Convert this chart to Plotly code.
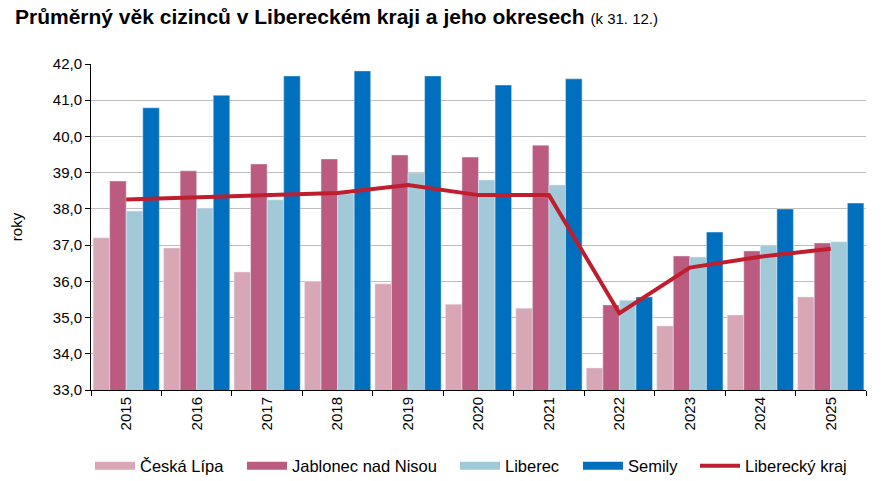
import plotly.graph_objects as go

years = ["2015", "2016", "2017", "2018", "2019", "2020", "2021", "2022", "2023", "2024", "2025"]
ceska_lipa = [37.20, 36.92, 36.26, 36.00, 35.93, 35.37, 35.26, 33.61, 34.77, 35.07, 35.57]
jablonec = [38.77, 39.05, 39.24, 39.38, 39.49, 39.43, 39.76, 35.35, 36.70, 36.84, 37.06]
liberec = [37.94, 38.02, 38.25, 38.41, 38.99, 38.80, 38.66, 35.48, 36.67, 37.00, 37.09]
semily = [40.79, 41.14, 41.67, 41.81, 41.67, 41.42, 41.59, 35.57, 37.36, 38.00, 38.16]
kraj = [38.26, 38.32, 38.37, 38.44, 38.66, 38.38, 38.38, 35.12, 36.38, 36.68, 36.90]

series_names = ["Česká Lípa", "Jablonec nad Nisou", "Liberec", "Semily"]
series_values = [ceska_lipa, jablonec, liberec, semily]
series_colors = ["#D8A7B6", "#BC5B80", "#A2C9D8", "#0070BE"]
line_name = "Liberecký kraj"
line_color = "#BE1E2D"

FONT = "Liberation Sans, Arial, sans-serif"

# plot area in pixels
L, R, T, B = 91, 17, 64, 91
W, H = 883, 481
PW = W - L - R
PH = H - T - B

legend_ids = ["legend", "legend2", "legend3", "legend4", "legend5"]
legend_px = [95, 247, 460, 583, 700]  # left edge of each swatch

fig = go.Figure()
for i, (name, vals, col) in enumerate(zip(series_names, series_values, series_colors)):
    fig.add_trace(go.Bar(x=years, y=vals, name=name, marker_color=col,
                         legendgroup=name, showlegend=False))
fig.add_trace(go.Scatter(x=years, y=kraj, name=line_name, mode="lines",
                         line=dict(color=line_color, width=4),
                         legendgroup=line_name, showlegend=True, legend=legend_ids[4]))
# legend swatches for bars (wide rectangles like the original)
for i, (name, col) in enumerate(zip(series_names, series_colors)):
    fig.add_trace(go.Scatter(x=[None], y=[None], name=name, mode="lines",
                             line=dict(color=col, width=8), legendgroup=name,
                             showlegend=True, legend=legend_ids[i]))

legend_common = dict(orientation="h", yanchor="middle", y=-(466 - (T + PH)) / PH,
                     xanchor="left", font=dict(family=FONT, size=16.5, color="black"),
                     itemwidth=40, bgcolor="rgba(0,0,0,0)", borderwidth=0)
legends = {}
for lid, px in zip(legend_ids, legend_px):
    legends[lid] = dict(legend_common, x=(px - 5 - L) / PW)

fig.update_layout(
    width=W, height=H,
    margin=dict(l=L, r=R, t=T, b=B, autoexpand=False),
    paper_bgcolor="white", plot_bgcolor="white",
    font=dict(family=FONT, size=15, color="black"),
    barmode="group", bargap=0.06, bargroupgap=0,
    separators=", ",
    title=dict(
        text="<b>Průměrný věk cizinců v Libereckém kraji a jeho okresech</b> <span style='font-size:15px'>(k 31. 12.)</span>",
        x=15 / W, xanchor="left", xref="container", y=1 - 17 / H, yanchor="middle",
        font=dict(family=FONT, size=21, color="black"),
    ),
    xaxis=dict(
        type="category", tickangle=-90, tickson="boundaries", ticks="outside",
        ticklen=5, tickcolor="black", showline=True, linecolor="black", linewidth=1,
        showgrid=False, tickfont=dict(size=15), automargin=False,
    ),
    yaxis=dict(
        range=[33, 42], dtick=1, tick0=33, tickformat=".1f",
        ticks="outside", ticklen=5, tickcolor="black",
        showline=True, linecolor="black", linewidth=1,
        gridcolor="#BEBEBE", gridwidth=1, zeroline=False,
        title=dict(text="roky", standoff=26, font=dict(size=15)),
        tickfont=dict(size=15), automargin=False,
    ),
    **legends,
)

fig.write_html("out.html")
